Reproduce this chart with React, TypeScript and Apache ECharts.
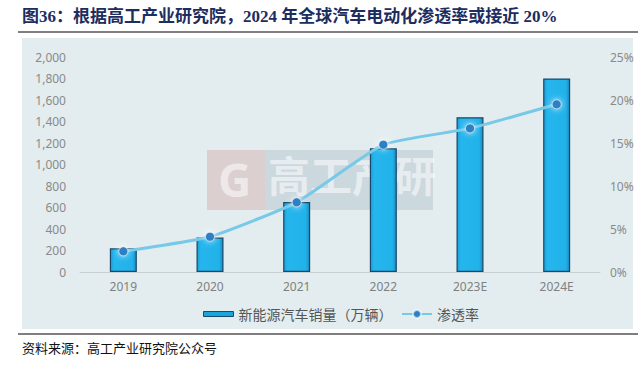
import React, { useEffect, useRef } from "react";
import * as echarts from "echarts";

const categories = ["2019", "2020", "2021", "2022", "2023E", "2024E"];
const salesValues = [220, 320, 650, 1150, 1440, 1800];
const penetrationValues = [2.4, 4.1, 8.1, 14.8, 16.7, 19.5];
const leftTicks = { min: 0, max: 2000, interval: 200 };
const rightTicks = { min: 0, max: 25, interval: 5 };

const titleText = "图36：根据高工产业研究院，2024 年全球汽车电动化渗透率或接近 20%";
const sourceText = "资料来源：高工产业研究院公众号";
const barName = "新能源汽车销量（万辆）";
const lineName = "渗透率";

export default function App() {
  const ref = useRef<HTMLDivElement>(null);
  useEffect(() => {
    const chart = echarts.init(ref.current!, null, { renderer: "svg" });
    const cjk = '"Liberation Serif", "Noto Sans CJK SC", serif';
    const sans = '"Noto Sans", "Noto Sans CJK SC", sans-serif';
    const legendText = { color: "#555", fontSize: 14, fontFamily: '"Noto Sans CJK SC", sans-serif' };
    chart.setOption({
      animation: false,
      backgroundColor: "#ffffff",
      graphic: [
        { type: "rect", z: -10, silent: true, shape: { x: 22, y: 38, width: 611, height: 291 }, style: { fill: "#e3edef" } },
        { type: "text", left: 22, top: 8, style: { text: titleText, font: `bold 17px ${cjk}`, fill: "#1c2d5e" } },
        { type: "line", shape: { x1: 18, y1: 32, x2: 638, y2: 32 }, style: { stroke: "#7f7f7f", lineWidth: 2 } },
        { type: "line", shape: { x1: 18, y1: 334, x2: 638, y2: 334 }, style: { stroke: "#555555", lineWidth: 1.5 } },
        { type: "text", left: 22, top: 342, style: { text: sourceText, font: `13px ${cjk}`, fill: "#111111" } },
        // watermark
        { type: "rect", z: 0, silent: true, shape: { x: 207, y: 150, width: 58, height: 60 }, style: { fill: "rgba(200,120,110,0.25)" } },
        { type: "text", z: 0, silent: true, left: 218, top: 156, style: { text: "G", font: `bold 46px ${sans}`, fill: "rgba(255,255,255,0.55)" } },
        { type: "rect", z: 0, silent: true, shape: { x: 265, y: 150, width: 168, height: 60 }, style: { fill: "rgba(140,160,180,0.28)" } },
        { type: "text", z: 0, silent: true, left: 268, top: 152, style: { text: "高工产研", font: `bold 42px "Noto Sans CJK SC", sans-serif`, fill: "rgba(255,255,255,0.55)" } },
      ],
      grid: { left: 80, right: 38, top: 57, bottom: 95, containLabel: false },
      legend: [
        {
          top: 302,
          left: 198,
          itemWidth: 30,
          itemHeight: 5,
          textStyle: legendText,
          data: [{ name: barName, icon: "rect", itemStyle: { color: "#1aa4dc", borderColor: "#174a6e", borderWidth: 1 } }],
        },
        {
          top: 302,
          left: 396,
          itemWidth: 30,
          itemHeight: 10,
          itemGap: 4,
          textStyle: legendText,
          data: [{ name: lineName }],
        },
      ],
      xAxis: {
        type: "category",
        data: categories,
        axisLine: { lineStyle: { color: "#c8cfd2" } },
        axisTick: { show: false },
        axisLabel: { color: "#808080", fontSize: 12, margin: 8, fontFamily: sans },
      },
      yAxis: [
        {
          type: "value",
          ...leftTicks,
          splitLine: { show: false },
          axisLine: { show: false },
          axisTick: { show: false },
          axisLabel: { color: "#8a8a8a", fontSize: 12, margin: 14, fontFamily: sans, formatter: (v: number) => v.toLocaleString("en-US") },
        },
        {
          type: "value",
          ...rightTicks,
          splitLine: { show: false },
          axisLine: { show: false },
          axisTick: { show: false },
          axisLabel: { color: "#8a8a8a", fontSize: 12, margin: 10, fontFamily: sans, formatter: "{value}%" },
        },
      ],
      series: [
        {
          name: barName,
          type: "bar",
          data: salesValues,
          barWidth: 27,
          z: 2,
          itemStyle: {
            color: new echarts.graphic.LinearGradient(0, 0, 1, 0, [
              { offset: 0, color: "#1e9fd6" },
              { offset: 0.15, color: "#25b6ee" },
              { offset: 0.85, color: "#22b2ea" },
              { offset: 1, color: "#1a8cc0" },
            ]),
            borderColor: "#17486a",
            borderWidth: 1.2,
          },
        },
        {
          name: lineName,
          type: "line",
          yAxisIndex: 1,
          data: penetrationValues,
          smooth: 0.15,
          z: 3,
          symbol: "circle",
          symbolSize: 9,
          lineStyle: { color: "#78c8e8", width: 3 },
          itemStyle: { color: "#2d80c4", borderColor: "rgba(255,255,255,0.6)", borderWidth: 1, shadowColor: "rgba(255,255,255,0.9)", shadowBlur: 6 },
        },
      ],
    });
    return () => chart.dispose();
  }, []);
  return <div ref={ref} style={{ position: "fixed", left: 0, top: 0, width: 638, height: 367 }} />;
}
